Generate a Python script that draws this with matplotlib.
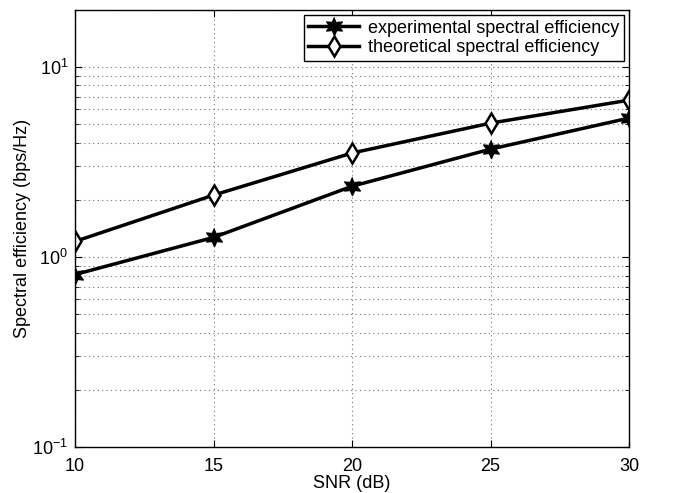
import matplotlib.pyplot as plt
import numpy as np

plt.rcParams['font.family'] = ['Liberation Sans', 'DejaVu Sans']

snr = [10, 15, 20, 25, 30]
experimental = [0.81, 1.27, 2.36, 3.70, 5.39]
theoretical = [1.21, 2.12, 3.53, 5.07, 6.70]

# six-pointed star like matlab's hexagram
ang = np.linspace(0, 2*np.pi, 13)[:-1] + np.pi/2
rad = np.where(np.arange(12) % 2 == 0, 1.0, 0.5)
hexagram = list(zip(rad*np.cos(ang), rad*np.sin(ang)))

fig = plt.figure(figsize=(6.83, 4.93), dpi=100)
ax = fig.add_axes([0.110, 0.093, 0.811, 0.887])

ax.semilogy(snr, experimental, 'k-', lw=2.5, marker=hexagram, ms=13,
            mfc='k', mec='k', label='experimental spectral efficiency')
ax.semilogy(snr, theoretical, 'k-', lw=2.5, marker='d', ms=10,
            mfc='white', mec='k', mew=1.8, label='theoretical spectral efficiency')

ax.set_xlim(10, 30)
ax.set_ylim(0.1, 20)
ax.set_xticks([10, 15, 20, 25, 30])
dots = (0, (1, 3))
ax.grid(True, which='major', ls=dots, color='0.45', lw=0.8)
ax.grid(True, which='minor', axis='y', ls=dots, color='0.45', lw=0.8)
ax.tick_params(which='both', direction='in', labelsize=13, top=True, right=True)
ax.tick_params(which='major', length=5)
ax.tick_params(which='minor', length=3)
ax.tick_params(axis='x', pad=8)
ax.tick_params(axis='y', pad=5)
for s in ax.spines.values():
    s.set_linewidth(1.0)

ax.set_xlabel('SNR (dB)', fontsize=13, labelpad=0)
ax.set_ylabel('Spectral efficiency (bps/Hz)', fontsize=13, labelpad=1)

leg = ax.legend(loc='upper right', fontsize=13, fancybox=False, framealpha=1,
                edgecolor='k', borderaxespad=0.3, handlelength=2.8,
                borderpad=0.25, labelspacing=0.15, handletextpad=0.5)
leg.get_frame().set_linewidth(1.0)

fig.savefig('out.png', dpi=100)
